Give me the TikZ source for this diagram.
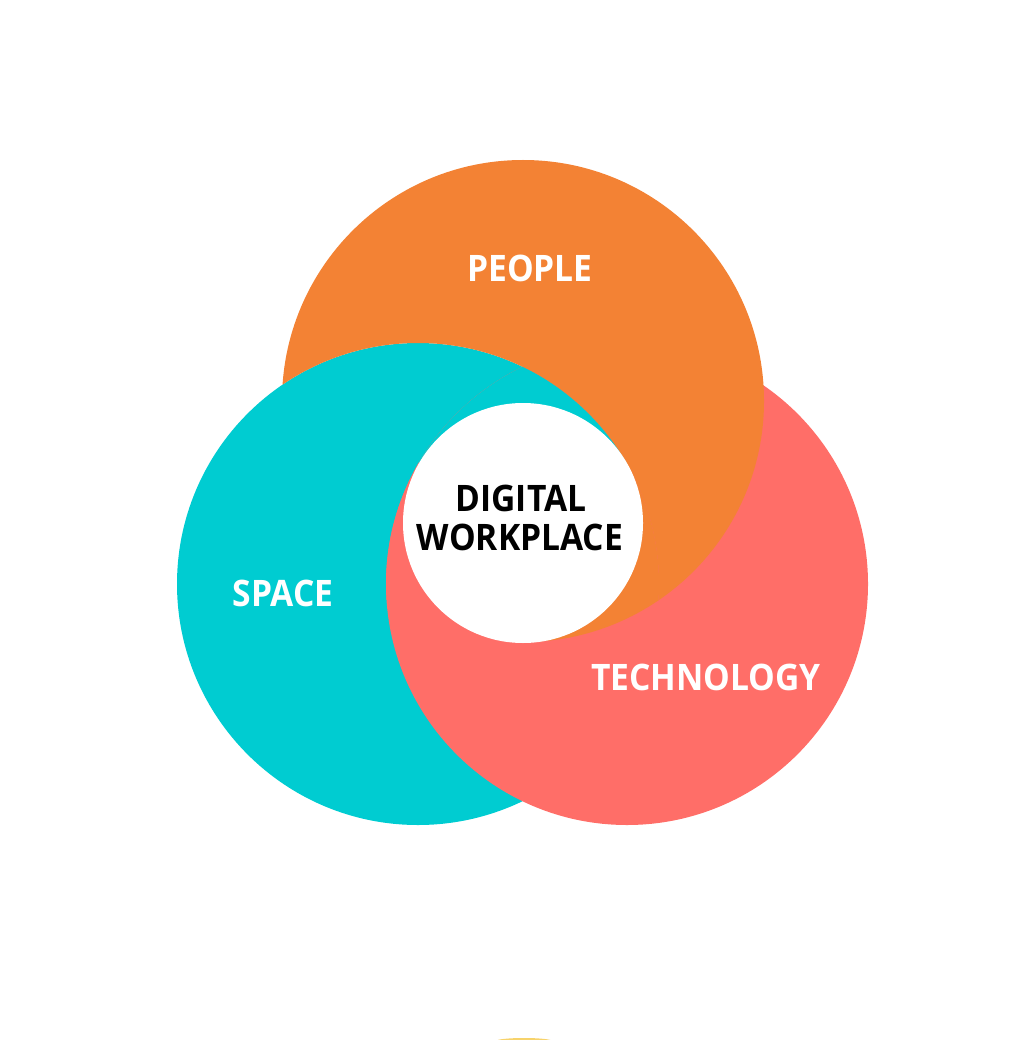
\documentclass[tikz,border=0pt]{standalone}
\usepackage{fontspec}
\setmainfont{Open Sans}
\newfontfamily\lblfont[FakeStretch=0.92]{Open Sans}
\definecolor{corange}{RGB}{243,130,52}
\definecolor{cteal}{RGB}{0,204,209}
\definecolor{cred}{RGB}{255,110,104}
\definecolor{cyellow}{RGB}{245,200,70}
\tikzset{
  lbl/.style={anchor=base,inner sep=0pt,font=\lblfont\fontsize{36.5}{40}\selectfont\bfseries,text=white},
  ctr/.style={lbl,text=black}
}
\begin{document}
\begin{tikzpicture}[x=1pt,y=-1pt]
\useasboundingbox (0,0) rectangle (1008,1040);
\begin{scope}
\clip (0,0) rectangle (1008,1040);
\fill[cyellow!80] (524,1041) ellipse[x radius=28,y radius=3];
\end{scope}
\fill[cteal] (418,584) circle[radius=241];
\fill[cred] (627,584) circle[radius=241];
\begin{scope}[even odd rule]
\clip (0,0) rectangle (1008,1040) (418,584) circle[radius=241];
\fill[corange] (523,401) circle[radius=241];
\end{scope}
% triple overlap: pinwheel colouring
\begin{scope}
\clip (418,584) circle[radius=241];
\clip (627,584) circle[radius=241];
\clip (523,401) circle[radius=241];
\fill[cteal] (523,523) -- (869,323) -- (523,-77) -- (177,323) -- cycle;
\fill[corange] (523,523) -- (869,323) -- (1123,823) -- (523,1123) -- cycle;
\fill[cred] (523,523) -- (523,1123) -- (-77,823) -- (177,323) -- cycle;
\end{scope}
\fill[white] (523,523) circle[radius=120];
\node[lbl] (people) at (530,281) {PEOPLE};
\node[lbl] (space) at (283,606) {SPACE};
\node[lbl] (tech) at (706,690) {TECHNOLOGY};
\node[ctr] (dig) at (521,511) {DIGITAL};
\node[ctr] (work) at (520,550) {WORKPLACE};
\end{tikzpicture}
\end{document}
